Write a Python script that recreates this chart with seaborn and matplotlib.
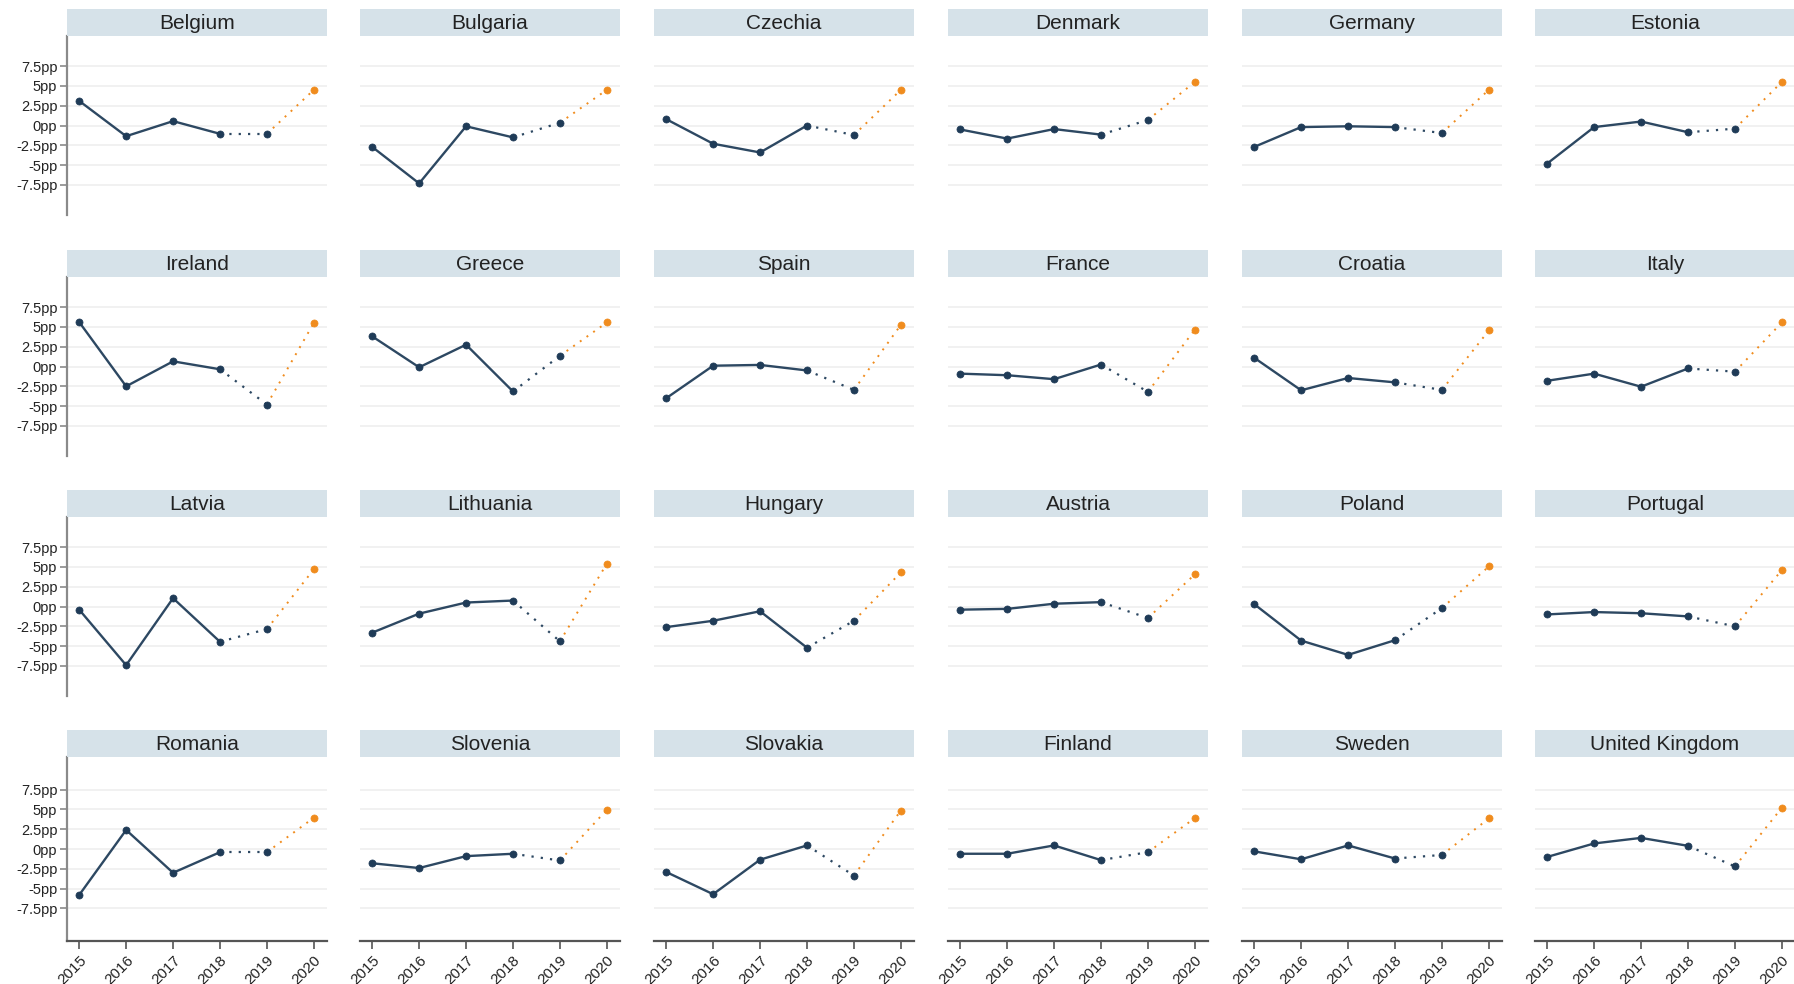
import matplotlib
matplotlib.use("Agg")
import matplotlib.pyplot as plt
import seaborn as sns
import pandas as pd

countries = ["Belgium", "Bulgaria", "Czechia", "Denmark", "Germany", "Estonia",
             "Ireland", "Greece", "Spain", "France", "Croatia", "Italy",
             "Latvia", "Lithuania", "Hungary", "Austria", "Poland", "Portugal",
             "Romania", "Slovenia", "Slovakia", "Finland", "Sweden", "United Kingdom"]
years = [2015, 2016, 2017, 2018, 2019, 2020]
v2015 = [3.1, -2.7, 0.8, -0.5, -2.7, -4.8,
         5.6, 3.8, -4.0, -0.9, 1.1, -1.8,
         -0.4, -3.3, -2.6, -0.4, 0.3, -1.0,
         -5.8, -1.8, -2.9, -0.6, -0.3, -1.0]
v2016 = [-1.35, -7.3, -2.3, -1.65, -0.2, -0.2,
         -2.5, -0.1, 0.1, -1.1, -3.0, -0.9,
         -7.4, -0.9, -1.8, -0.3, -4.3, -0.7,
         2.4, -2.4, -5.7, -0.6, -1.3, 0.7]
v2017 = [0.55, -0.1, -3.4, -0.45, -0.1, 0.5,
         0.65, 2.75, 0.2, -1.6, -1.45, -2.55,
         1.05, 0.5, -0.6, 0.35, -6.1, -0.85,
         -3.0, -0.9, -1.35, 0.45, 0.45, 1.4]
v2018 = [-1.05, -1.5, 0.0, -1.15, -0.2, -0.85,
         -0.35, -3.15, -0.5, 0.25, -2.0, -0.25,
         -4.45, 0.75, -5.2, 0.55, -4.25, -1.25,
         -0.4, -0.6, 0.45, -1.4, -1.2, 0.4]
v2019 = [-1.05, 0.35, -1.2, 0.7, -0.95, -0.4,
         -4.8, 1.35, -2.95, -3.2, -2.95, -0.65,
         -2.85, -4.4, -1.8, -1.45, -0.2, -2.5,
         -0.4, -1.45, -3.35, -0.4, -0.75, -2.2]
v2020 = [4.5, 4.5, 4.5, 5.5, 4.5, 5.5,
         5.5, 5.55, 5.25, 4.65, 4.55, 5.55,
         4.7, 5.4, 4.3, 4.05, 5.05, 4.6,
         3.95, 4.95, 4.85, 3.9, 3.85, 5.2]
ytick_vals = [-7.5, -5, -2.5, 0, 2.5, 5, 7.5]
ytick_labels = ["-7.5pp", "-5pp", "-2.5pp", "0pp", "2.5pp", "5pp", "7.5pp"]

series = [v2015, v2016, v2017, v2018, v2019, v2020]
rows = []
for i, c in enumerate(countries):
    for y, vals in zip(years, series):
        rows.append({"country": c, "year": y, "value": vals[i]})
df = pd.DataFrame(rows)

sns.set_style("white")
plt.rcParams["font.family"] = ["Liberation Sans", "DejaVu Sans"]

NAVY = "#2d4862"
MARK = "#1f3b57"
ORANGE = "#f08c1e"
STRIP = "#d6e2e9"
GRID = "#f0f0f0"

W, H = 1794, 984
fig = plt.figure(figsize=(W / 100, H / 100), dpi=100)

col_left = [67, 360, 654, 948, 1242, 1535]
pw = 260
row_top = [36, 277, 517, 757]
row_h = [179, 179, 179, 184]
strip_h = 27

for idx, c in enumerate(countries):
    r, k = divmod(idx, 6)
    x0 = col_left[k]
    top = row_top[r]
    h = row_h[r]
    ax = fig.add_axes([x0 / W, 1 - (top + h) / H, pw / W, h / H])
    half = h / 2 / 7.93
    sub = df[df["country"] == c]
    for yv in ytick_vals:
        ax.axhline(yv, color=GRID, lw=1.3, zorder=0)
    sns.lineplot(data=sub[sub["year"] <= 2018], x="year", y="value", color=NAVY,
                 lw=1.7, ax=ax, zorder=2)
    sns.lineplot(data=sub[sub["year"].between(2018, 2019)], x="year", y="value",
                 color=NAVY, lw=1.6, ax=ax, zorder=2, linestyle=(0, (1, 3.2)))
    sns.lineplot(data=sub[sub["year"] >= 2019], x="year", y="value",
                 color=ORANGE, lw=1.4, ax=ax, zorder=2, linestyle=(0, (1, 3.2)))
    sns.scatterplot(data=sub[sub["year"] <= 2019], x="year", y="value", color=MARK,
                    s=26, edgecolor=MARK, linewidth=0.5, ax=ax, zorder=3, legend=False)
    sns.scatterplot(data=sub[sub["year"] == 2020], x="year", y="value", color=ORANGE,
                    s=26, edgecolor=ORANGE, linewidth=0.5, ax=ax, zorder=3, legend=False)
    ax.set_xlim(2014.74, 2020.28)
    ax.set_ylim(-half, half)
    ax.set_xlabel("")
    ax.set_ylabel("")
    for s in ["top", "right", "left", "bottom"]:
        ax.spines[s].set_visible(False)
    ax.set_facecolor("none")
    if k == 0:
        ax.spines["left"].set_visible(True)
        ax.spines["left"].set_color("#8a8a8a")
        ax.spines["left"].set_linewidth(1.6)
        ax.set_yticks(ytick_vals)
        ax.set_yticklabels(ytick_labels)
        ax.tick_params(axis="y", left=True, length=5, width=1.2, color="#8a8a8a",
                       labelsize=10.5, pad=2, labelcolor="#222222")
    else:
        ax.set_yticks([])
    if r == 3:
        ax.spines["bottom"].set_visible(True)
        ax.spines["bottom"].set_color("#555555")
        ax.spines["bottom"].set_linewidth(1.6)
        ax.set_xticks(years)
        ax.set_xticklabels([str(y) for y in years], rotation=45, ha="right",
                           rotation_mode="anchor")
        ax.tick_params(axis="x", bottom=True, length=6, width=1.2, color="#555555",
                       labelsize=11, pad=3, labelcolor="#222222")
    else:
        ax.set_xticks([])
    sax = fig.add_axes([x0 / W, 1 - top / H, pw / W, strip_h / H])
    sax.set_facecolor(STRIP)
    for s in sax.spines.values():
        s.set_visible(False)
    sax.set_xticks([])
    sax.set_yticks([])
    sax.text(0.5, 0.45, c, ha="center", va="center", fontsize=15, color="#222222",
             transform=sax.transAxes)

fig.savefig("out.png", dpi=100, facecolor="white")
